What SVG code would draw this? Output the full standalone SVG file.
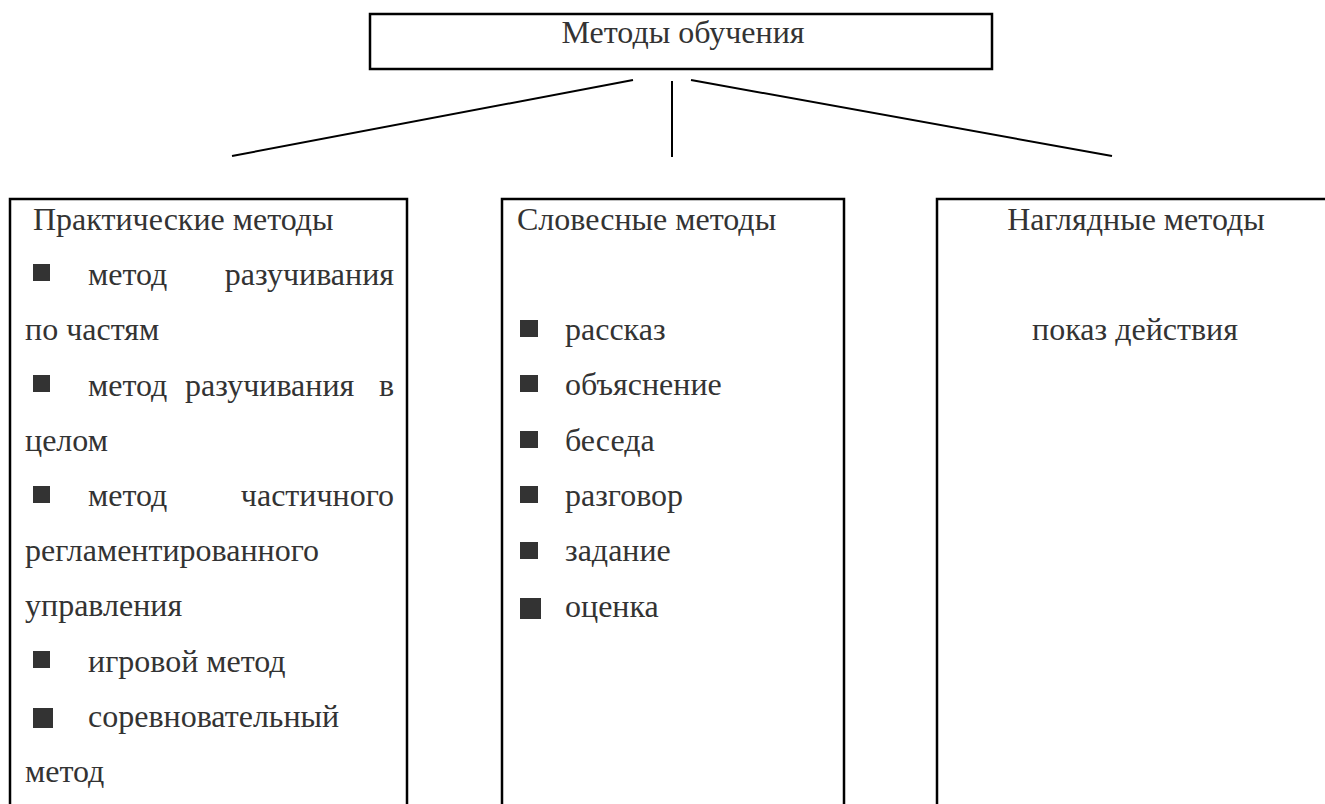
<svg xmlns="http://www.w3.org/2000/svg" width="1325" height="804" viewBox="0 0 1325 804">
<style>
  .box { fill: none; stroke: #000; stroke-width: 2.5; }
  .t { font-family: "Liberation Serif", "Times New Roman", serif; font-size: 32px; fill: #333; }
  .e { text-anchor: end; }
  .m { text-anchor: middle; }
  .b { fill: #333; }
  .c { stroke: #000; stroke-width: 2; fill: none; }
</style>
<rect width="1325" height="804" fill="#fff"/>

<g id="root">
  <rect class="box" x="370" y="14" width="622" height="55"/>
  <text class="t m" x="683" y="43">Методы обучения</text>
</g>

<g id="connectors">
  <line class="c" x1="633" y1="80" x2="232" y2="156"/>
  <line class="c" x1="672" y1="81" x2="672" y2="157"/>
  <line class="c" x1="691" y1="80" x2="1112" y2="156"/>
</g>

<g id="practical">
  <path class="box" d="M10,812 V199 H407 V812"/>
  <text class="t" x="33" y="230">Практические методы</text>
  <rect class="b" x="33" y="264" width="17" height="17"/>
  <text class="t" x="88" y="285">метод</text>
  <text class="t e" x="394" y="285">разучивания</text>
  <text class="t" x="25" y="340">по частям</text>
  <rect class="b" x="33" y="375" width="17" height="17"/>
  <text class="t" x="88" y="396">метод</text>
  <text class="t" x="185" y="396">разучивания</text>
  <text class="t e" x="394" y="396">в</text>
  <text class="t" x="25" y="451">целом</text>
  <rect class="b" x="33" y="486" width="17" height="17"/>
  <text class="t" x="88" y="506">метод</text>
  <text class="t e" x="394" y="506">частичного</text>
  <text class="t" x="25" y="561">регламентированного</text>
  <text class="t" x="25" y="616">управления</text>
  <rect class="b" x="33" y="651" width="17" height="17"/>
  <text class="t" x="88" y="672">игровой метод</text>
  <rect class="b" x="33" y="708" width="20" height="20"/>
  <text class="t" x="88" y="727">соревновательный</text>
  <text class="t" x="25" y="782">метод</text>
</g>

<g id="verbal">
  <path class="box" d="M502,812 V199 H844 V812"/>
  <text class="t" x="517" y="230">Словесные методы</text>
  <rect class="b" x="520" y="320" width="18" height="17"/>
  <text class="t" x="565" y="340">рассказ</text>
  <rect class="b" x="520" y="375" width="18" height="17"/>
  <text class="t" x="565" y="395">объяснение</text>
  <rect class="b" x="520" y="431" width="18" height="17"/>
  <text class="t" x="565" y="451">беседа</text>
  <rect class="b" x="520" y="486" width="18" height="17"/>
  <text class="t" x="565" y="506">разговор</text>
  <rect class="b" x="520" y="542" width="18" height="17"/>
  <text class="t" x="565" y="561">задание</text>
  <rect class="b" x="520" y="598" width="21" height="21"/>
  <text class="t" x="565" y="617">оценка</text>
</g>

<g id="visual">
  <path class="box" d="M937,812 V199 H1340"/>
  <text class="t m" x="1136" y="230">Наглядные методы</text>
  <text class="t m" x="1135" y="340">показ действия</text>
</g>
</svg>
